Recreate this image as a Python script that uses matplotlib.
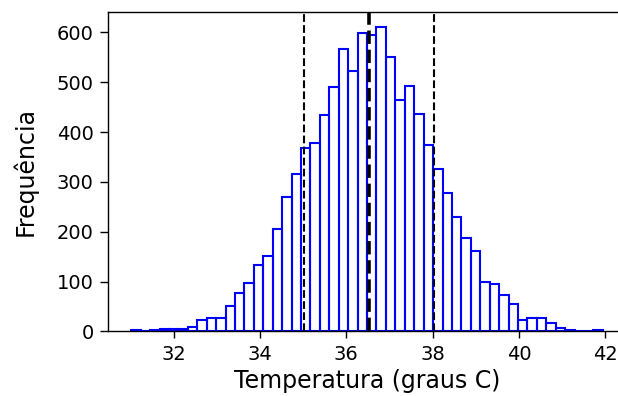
import numpy as np
import matplotlib
matplotlib.use("Agg")
import matplotlib.pyplot as plt

# histogram counts (50 bins)
counts = [2, 0, 3, 5, 5, 5, 8, 22, 26, 27,
          52, 78, 97, 134, 152, 205, 270, 315, 368, 379,
          435, 491, 566, 523, 599, 594, 610, 550, 465, 492,
          437, 374, 326, 278, 229, 187, 162, 99, 96, 73,
          56, 22, 27, 27, 17, 7, 3, 0, 0, 3]
temp_min = 31.02
temp_max = 41.94

mean_temp = 36.52
std_lines = [35.03, 38.02]

edges = np.linspace(temp_min, temp_max, len(counts) + 1)

plt.rcParams.update({
    'xtick.labelsize': 14, 'ytick.labelsize': 14,
    'xtick.major.size': 5, 'ytick.major.size': 6,
    'xtick.major.width': 1.0, 'ytick.major.width': 1.0,
    'xtick.major.pad': 5, 'ytick.major.pad': 4,
    'axes.linewidth': 1.0,
})

fig = plt.figure(figsize=(6.18, 3.96), dpi=100)
ax = fig.add_axes([0.1743, 0.163, 0.8393, 0.806])

ax.bar(edges[:-1], counts, width=np.diff(edges), align='edge',
       fill=False, edgecolor='blue', linewidth=1.5)

for x in std_lines:
    ax.axvline(x, color='black', linestyle='--', linewidth=1.5)
ax.axvline(mean_temp, color='black', linestyle='--', linewidth=2.6)

ax.set_xlabel("Temperatura (graus C)", fontsize=17, labelpad=3)
ax.set_ylabel("Frequência", fontsize=17, labelpad=14)

fig.savefig("out.png", dpi=100)
